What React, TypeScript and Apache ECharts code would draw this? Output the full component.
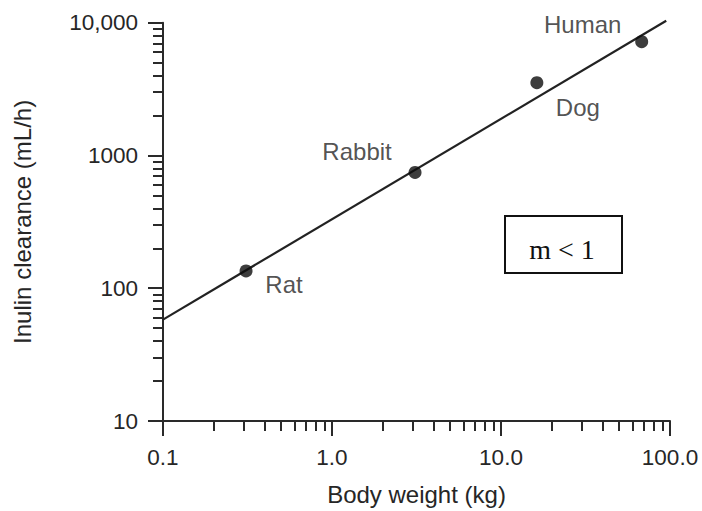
import React, { useEffect, useRef } from "react";
import * as echarts from "echarts";

const species = ["Rat", "Rabbit", "Dog", "Human"];
const bodyWeightKg = [0.31, 3.1, 16.3, 68];
const inulinClearance = [135, 745, 3530, 7200];

const fitLineX = [0.1, 95];
const fitLineY = [58, 10350];

const xMajorTicks = [0.1, 1, 10, 100];
const xTickLabels = ["0.1", "1.0", "10.0", "100.0"];
const xMinorTicks = [
  0.2, 0.3, 0.4, 0.5, 0.6, 0.7, 0.8, 0.9,
  2, 3, 4, 5, 6, 7, 8, 9,
  20, 30, 40, 50, 60, 70, 80, 90,
];
const yMajorTicks = [10, 100, 1000, 10000];
const yTickLabels = ["10", "100", "1000", "10,000"];
const yMinorTicks = [
  20, 30, 40, 50, 60, 70, 80, 90,
  200, 300, 400, 500, 600, 700, 800, 900,
  2000, 3000, 4000, 5000, 6000, 7000, 8000, 9000,
];

const xAxisTitle = "Body weight (kg)";
const yAxisTitle = "Inulin clearance (mL/h)";
const boxText = "m < 1";

function nearestLabel(v: number, ticks: number[], labels: string[]) {
  let best = 0;
  let bd = Infinity;
  ticks.forEach((t, i) => {
    const d = Math.abs(Math.log10(v) - Math.log10(t));
    if (d < bd) {
      bd = d;
      best = i;
    }
  });
  return labels[best];
}

export default function App() {
  const ref = useRef<HTMLDivElement>(null);

  useEffect(() => {
    if (!ref.current) return;
    const chart = echarts.init(ref.current, null, { renderer: "svg" });
    const font = "'Liberation Sans', Arial, Helvetica, sans-serif";
    const axisColor = "#2a2a2a";
    const textColor = "#262626";
    const labelOffsets = [
      [38, 14],
      [-58, -21],
      [41, 25],
      [-59, -17],
    ];

    const majorAxisCommon = {
      type: "log",
      logBase: 10,
      gridIndex: 0,
      axisLine: { show: true, lineStyle: { color: axisColor, width: 2 } },
      splitLine: { show: false },
      minorTick: { show: false },
    };

    chart.setOption({
      animation: false,
      backgroundColor: "#ffffff",
      grid: { left: 163, right: 32, top: 22.7, bottom: 88, containLabel: false },
      xAxis: [
        {
          ...majorAxisCommon,
          min: 0.1,
          max: 100,
          position: "bottom",
          axisTick: {
            show: true,
            length: 15,
            customValues: xMajorTicks,
            lineStyle: { color: axisColor, width: 2 },
          },
          axisLabel: {
            show: true,
            customValues: xMajorTicks,
            formatter: (v: number) => nearestLabel(v, xMajorTicks, xTickLabels),
            fontSize: 22.5,
            fontFamily: font,
            color: textColor,
            margin: 25,
          },
          name: xAxisTitle,
          nameLocation: "middle",
          nameGap: 61,
          nameTextStyle: { fontSize: 24, fontFamily: font, color: textColor },
        },
        {
          type: "log",
          logBase: 10,
          gridIndex: 0,
          min: 0.1,
          max: 100,
          position: "bottom",
          axisLine: { show: false },
          axisTick: {
            show: true,
            length: 10,
            customValues: xMinorTicks,
            lineStyle: { color: axisColor, width: 2 },
          },
          axisLabel: { show: false },
          splitLine: { show: false },
        },
      ],
      yAxis: [
        {
          ...majorAxisCommon,
          min: 10,
          max: 10000,
          position: "left",
          axisTick: {
            show: true,
            length: 15,
            customValues: yMajorTicks,
            lineStyle: { color: axisColor, width: 2 },
          },
          axisLabel: {
            show: true,
            customValues: yMajorTicks,
            formatter: (v: number) => nearestLabel(v, yMajorTicks, yTickLabels),
            fontSize: 22.5,
            fontFamily: font,
            color: textColor,
            margin: 25,
          },
          name: yAxisTitle,
          nameLocation: "middle",
          nameGap: 129,
          nameTextStyle: { fontSize: 24, fontFamily: font, color: textColor },
        },
        {
          type: "log",
          logBase: 10,
          gridIndex: 0,
          min: 10,
          max: 10000,
          position: "left",
          axisLine: { show: false },
          axisTick: {
            show: true,
            length: 10,
            customValues: yMinorTicks,
            lineStyle: { color: axisColor, width: 2 },
          },
          axisLabel: { show: false },
          splitLine: { show: false },
        },
      ],
      series: [
        {
          type: "line",
          xAxisIndex: 0,
          yAxisIndex: 0,
          data: fitLineX.map((x, i) => [x, fitLineY[i]]),
          showSymbol: false,
          symbol: "none",
          clip: false,
          lineStyle: { color: "#222", width: 2.2 },
          silent: true,
          z: 2,
        },
        {
          type: "scatter",
          xAxisIndex: 0,
          yAxisIndex: 0,
          symbol: "circle",
          symbolSize: 13,
          itemStyle: { color: "#0d0d0d" },
          z: 3,
          label: {
            show: true,
            position: "inside",
            align: "center",
            verticalAlign: "middle",
            fontSize: 24,
            fontFamily: font,
            color: textColor,
            formatter: (p: any) => species[p.dataIndex],
          },
          data: bodyWeightKg.map((x, i) => ({
            value: [x, inulinClearance[i]],
            label: { offset: labelOffsets[i] },
          })),
        },
      ],
      graphic: [
        {
          type: "rect",
          shape: { x: 505, y: 216, width: 117, height: 57 },
          style: { fill: "#fff", stroke: "#111", lineWidth: 2 },
          z: 10,
        },
        {
          type: "text",
          x: 562,
          y: 249,
          style: {
            text: boxText,
            font: "28px 'Liberation Serif', 'Times New Roman', serif",
            fill: "#111",
            textAlign: "center",
            textVerticalAlign: "middle",
          },
          z: 11,
        },
      ],
    });

    return () => chart.dispose();
  }, []);

  return (
    <div
      ref={ref}
      style={{ position: "fixed", left: 0, top: 0, width: 702, height: 511 }}
    />
  );
}
